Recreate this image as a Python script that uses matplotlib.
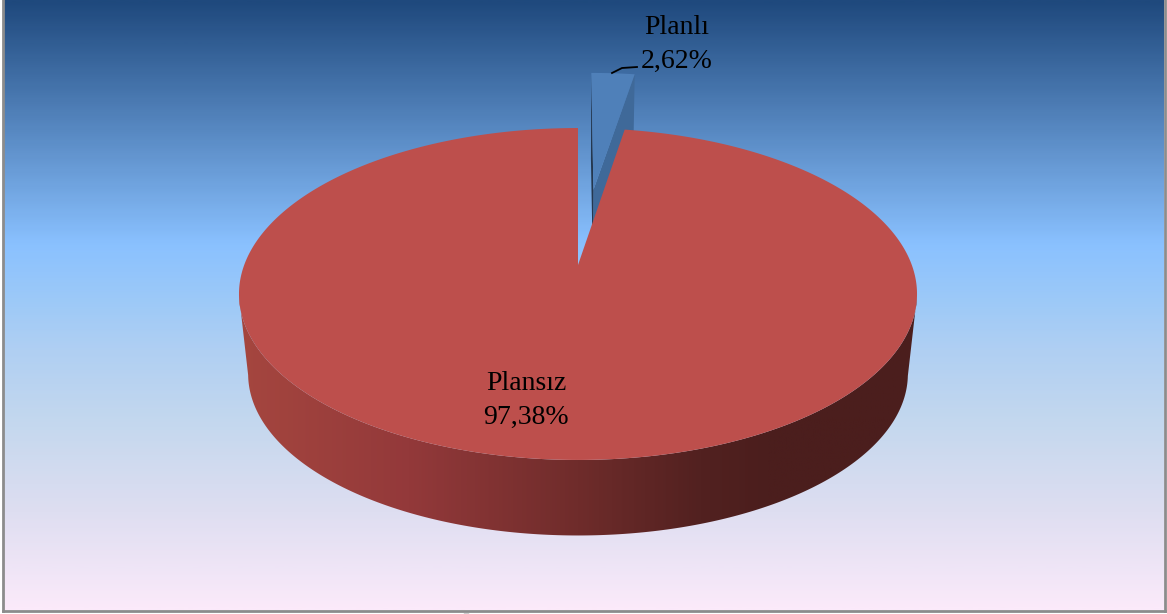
import numpy as np
import matplotlib
matplotlib.use("Agg")
import matplotlib.pyplot as plt
from matplotlib.colors import LinearSegmentedColormap
from matplotlib.patches import Polygon

labels = ["Planlı", "Plansız"]
shares = [2.62, 97.38]

# background stops (position from the top, colour)
bg_pos = [0.0, 0.4, 0.49, 0.57, 0.70, 0.84, 1.0]
bg_colors = ["#1f497d", "#8ac1ff", "#9cc9f8", "#afcff3", "#c5d8ee", "#dedef1", "#fbeafa"]

# side wall shading left to right across the pie
side_pos = [0.0, 0.25, 0.5, 0.68, 0.78, 1.0]
side_colors = ["#a5463f", "#93393a", "#6f2c2b", "#522120", "#4b1e1d", "#4b1e1d"]

top_red = "#bd4f4c"
top_blue = "#4f80b9"
wall_blue = "#3f6999"
wall_blue_dark = "#24374f"

# pie geometry in pixels
cx, apex_y = 578, 265
persp = 0.1747
sx, sy = 333.8, 160.9
ell_y, taper, low_y = 294, 0.973, 374
explode = 0.51


def project(X, V):
    # disc coordinates to screen, farther points get smaller
    d = 1 + persp * V
    return cx + sx * X / d, apex_y - sy * V / d


def lower(x, y):
    # bottom edge below a point of the top face
    return cx + taper * (x - cx), low_y + taper * (y - ell_y)


fig = plt.figure(figsize=(11.67, 6.14), dpi=100, facecolor="white")
ax = fig.add_axes([0, 0, 1, 1])
ax.set_xlim(0, 1167)
ax.set_ylim(614, 0)
ax.axis("off")

bg_cmap = LinearSegmentedColormap.from_list("bg", list(zip(bg_pos, bg_colors)))
ax.imshow(np.linspace(0, 1, 300).reshape(-1, 1), cmap=bg_cmap, aspect="auto",
          extent=[3, 1164, 610, 0], zorder=0)
ax.plot([3, 3], [0, 611], color="#8c8c8c", lw=2, zorder=1)
ax.plot([3, 1165], [611, 611], color="#8c8c8c", lw=2, zorder=1)
ax.plot([1165, 1165], [0, 611], color="#8c8c8c", lw=2, zorder=1)
ax.plot([464, 468], [613.5, 613.5], color="black", lw=1, zorder=1)

gap = 2 * np.pi * shares[0] / sum(shares)

# exploded slice
mid = gap / 2
ox, ov = explode * np.sin(mid) * 1.2, explode * np.cos(mid)
t = np.linspace(0, gap, 20)
bx, by = project(ox + np.sin(t), ov + np.cos(t))
ax0, ay0 = project(ox, ov)
lx, ly = lower(np.array([ax0, bx[-1]]), np.array([ay0, by[-1]]))
ax.fill([ax0, bx[-1], lx[1], lx[0]], [ay0, by[-1], ly[1], ly[0]],
        color=wall_blue, lw=0, zorder=2)
lx, ly = lower(np.array([ax0, bx[0]]), np.array([ay0, by[0]]))
ax.fill([ax0, bx[0], lx[1], lx[0]], [ay0, by[0], ly[1], ly[0]],
        color=wall_blue_dark, lw=0, zorder=2)
ax.fill(np.r_[ax0, bx], np.r_[ay0, by], color=top_blue, lw=0, zorder=3)

# large slice, side first and then the top
t = np.linspace(gap, 2 * np.pi, 500)
rx, ry = project(np.sin(t), np.cos(t))
qx, qy = lower(rx, ry)
front = ry >= ell_y
left, right = rx.min(), rx.max()
side_cmap = LinearSegmentedColormap.from_list("side", list(zip(side_pos, side_colors)))
outline = np.c_[np.r_[rx[front], qx[front][::-1]], np.r_[ry[front], qy[front][::-1]]]
side = ax.imshow(np.linspace(0, 1, 400).reshape(1, -1), cmap=side_cmap, aspect="auto",
                 extent=[left, right, 560, 280], zorder=4)
side.set_clip_path(Polygon(outline, transform=ax.transData))
ax.fill(np.r_[cx, rx], np.r_[apex_y, ry], color=top_red, lw=0, zorder=5)
ax.set_xlim(0, 1167)
ax.set_ylim(614, 0)

# labels
font = dict(family="Liberation Serif", fontsize=20, color="black", ha="center",
            va="center", zorder=6)
pct = [f"{s:.2f}%".replace(".", ",") for s in shares]
ax.text(677, 28, labels[0], **font)
ax.text(677, 61, pct[0], **font)
ax.text(526, 384, labels[1], **font)
ax.text(526, 417, pct[1], **font)
ax.plot([612, 622, 637], [73, 68, 67], color="black", lw=1.3, zorder=6)

fig.savefig("out.png", dpi=100, facecolor="white")
